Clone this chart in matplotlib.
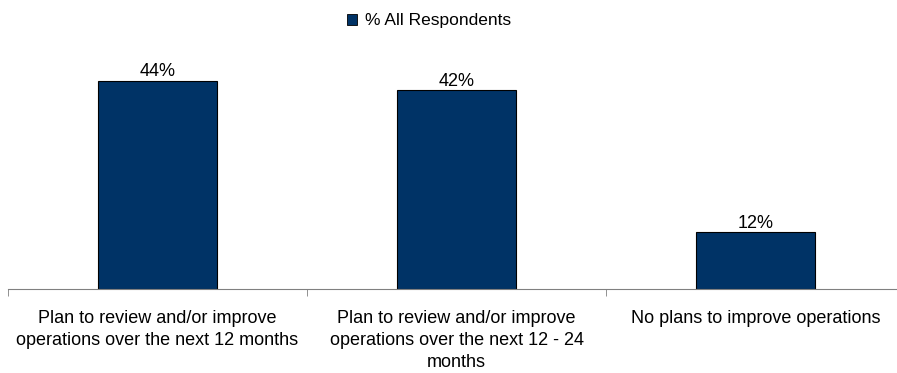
import matplotlib
matplotlib.use("Agg")
import matplotlib.pyplot as plt
from matplotlib.patches import Patch

plt.rcParams['font.family'] = ['Liberation Sans', 'DejaVu Sans']

categories = [
    "Plan to review and/or improve\noperations over the next 12 months",
    "Plan to review and/or improve\noperations over the next 12 - 24\nmonths",
    "No plans to improve operations",
]
values = [44, 42, 12]
value_labels = ["44%", "42%", "12%"]
series_name = "% All Respondents"

bar_color = "#003366"

fig = plt.figure(figsize=(8.97, 3.73), dpi=100)
ax = fig.add_axes([8 / 897, 84 / 373, 897 / 897, 244 / 373])

x = list(range(len(categories)))
ax.bar(x, values, width=0.4, color=bar_color, edgecolor="black", linewidth=0.8)
ax.set_xlim(-0.5, len(categories) - 0.5)
ax.set_ylim(0, 244 / 4.73)

for xi, v, lab in zip(x, values, value_labels):
    ax.annotate(lab, (xi, v), xytext=(0, 0.5), textcoords="offset points",
                ha="center", va="bottom", fontsize=13)

for s in ["top", "right", "left"]:
    ax.spines[s].set_visible(False)
ax.spines["bottom"].set_color("#808080")
ax.set_yticks([])

# category separators as minor ticks on the x axis
ax.set_xticks(x)
ax.set_xticklabels(categories, fontsize=13, linespacing=1.4)
ax.tick_params(axis="x", which="major", length=0, pad=15)
ax.set_xticks([i - 0.5 for i in range(len(categories) + 1)], minor=True)
ax.tick_params(axis="x", which="minor", length=5, color="#808080", direction="out")

handle = Patch(facecolor=bar_color, edgecolor="black", linewidth=0.6)
fig.legend([handle], [series_name], loc="center", bbox_to_anchor=(429 / 897, 1 - 21 / 373),
           frameon=False, fontsize=12.5, handlelength=0.6, handleheight=0.6,
           handletextpad=0.45)

fig.savefig("out.png", dpi=100)
